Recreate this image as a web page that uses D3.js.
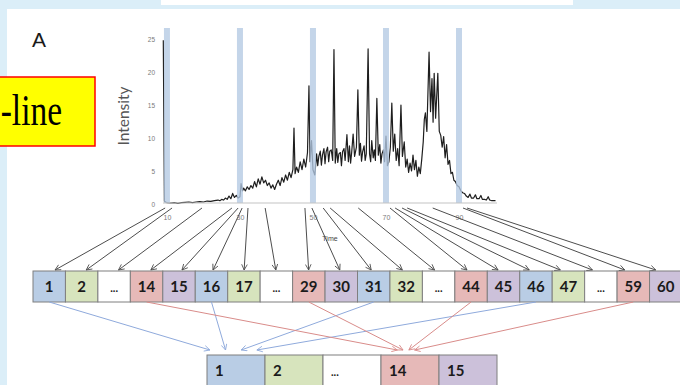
<!DOCTYPE html>
<html>
<head>
<meta charset="utf-8">
<script src="https://cdn.jsdelivr.net/npm/d3@7"></script>
<style>
  html, body { margin: 0; padding: 0; background: #ffffff; }
  svg { display: block; }
</style>
</head>
<body>
<svg id="fig" width="680" height="385"></svg>
<script>
// ---- data ----------------------------------------------------------
// Chromatogram trace: [time, intensity]
const trace = [
  [9,24.8],[9.3,0.4],[10,0.2],[11,0.15],[12,0.2],[13,0.1],[14,0.2],[15,0.25],[16,0.3],
  [17,0.2],[18,0.3],[19,0.35],[20,0.3],[21,0.45],[22,0.4],[23,0.5],[24,0.6],[24.5,0.5],
  [25,0.7],[25.5,0.6],[26,0.9],[26.5,0.7],[27,1.2],[27.5,0.8],[28,1.6],[28.5,1.0],[29,1.3],
  [29.5,0.9],[30,1.1],[30.3,3.1],[30.7,2.0],[31,2.4],[31.5,2.0],[32,2.6],[32.5,2.2],[33,2.8],
  [33.5,2.4],[34,3.4],[34.5,2.6],[35,3.8],[35.5,3.0],[36,4.1],[36.5,3.2],[37,3.6],[37.5,2.8],
  [38,3.2],[38.5,2.4],[39,2.9],[39.5,2.2],[40,3.0],[40.5,3.6],[41,2.8],[41.5,4.0],[42,3.3],
  [42.5,4.4],[43,3.6],[43.5,4.8],[44,4.0],[44.5,5.2],[44.8,11.5],[45.1,4.6],[45.5,5.6],[46,4.8],
  [46.5,6.4],[47,5.2],[47.5,6.8],[48,5.6],[48.5,7.8],[48.9,17.9],[49.2,6.4],[49.6,9.6],[50,5.2],
  [50.5,4.4],[51,7.6],[51.3,5.8],[51.6,7.2],[52,8.0],[52.3,5.9],[52.6,7.4],[53,8.4],[53.3,6.1],
  [53.6,7.9],[54,8.6],[54.3,6.4],[54.6,8.0],[55,8.2],[55.4,6.6],[55.75,23.4],[56.1,6.2],[56.5,8.4],
  [56.8,6.3],[57.1,7.6],[57.5,7.8],[57.8,5.8],[58.1,7.9],[58.5,8.4],[58.8,6.6],[59.3,10.5],[59.7,6.4],
  [60,8.8],[60.3,6.2],[60.6,7.8],[61,10.6],[61.4,7.2],[61.9,8.6],[62.3,17.3],[62.7,7.4],[63,9.2],
  [63.3,6.5],[63.6,7.9],[64,8.8],[64.3,6.6],[64.6,7.6],[65.1,23.5],[65.5,7.6],[65.8,6.4],[66.1,9.6],
  [66.5,7.0],[66.8,8.2],[67.1,6.6],[67.5,16.0],[67.9,7.4],[68.3,9.0],[68.6,6.2],[68.9,7.6],[69.3,8.2],
  [69.6,6.4],[70,10.3],[70.4,5.8],[70.8,6.4],[71.2,8.6],[71.6,15.3],[72,8.0],[72.4,10.6],[72.8,6.6],
  [73.2,8.4],[73.6,5.8],[74.1,15.0],[74.5,7.2],[75,9.4],[75.4,5.6],[75.8,6.8],[76.2,4.8],[76.6,6.2],
  [77,5.0],[77.4,7.4],[77.8,5.2],[78.2,6.6],[78.6,4.2],[79,5.6],[79.4,4.6],[79.8,6.8],[80.2,9.4],
  [80.5,12.8],[80.8,13.8],[81.2,11.0],[81.8,23.0],[82.2,14.0],[82.6,19.0],[82.9,12.4],[83.2,19.8],
  [83.6,13.0],[84.2,19.8],[84.6,11.0],[85,10.4],[85.4,8.6],[85.8,10.2],[86.2,7.0],[86.6,9.0],[87,6.0],
  [87.4,6.6],[87.8,4.6],[88.2,4.8],[88.6,3.6],[89,3.4],[89.5,2.8],[90,2.6],[90.5,2.0],[91,1.7],
  [91.5,1.6],[92,1.2],[92.5,1.0],[93,1.5],[93.4,0.9],[94,0.9],[94.5,1.4],[94.9,0.8],[95.5,0.8],
  [96,1.3],[96.4,0.7],[97,0.7],[97.5,0.6],[98,1.1],[98.4,0.6],[99,0.5],[100,0.5]
];

const yTicks = [0, 5, 10, 15, 20, 25];
const xTicks = [10, 30, 50, 70, 90];
const markerTimes = [10, 30, 50, 70, 90];

// Collected fractions (top row) and their pool colour group
const fractionLabels = ["1","2","...","14","15","16","17","...","29","30",
                        "31","32","...","44","45","46","47","...","59","60"];
const fractionGroups = ["blue","green","none","pink","purple","blue","green","none","pink","purple",
                        "blue","green","none","pink","purple","blue","green","none","pink","purple"];
// Elution time at which each fraction arrow leaves the trace
const fractionTimes = [9.5, 11.4, 19.6, 27.8, 29.5, 30.6, 32.2, 36.9, 47.8, 49.7,
                       52.8, 54.7, 62.4, 71.1, 72.5, 74.4, 75.8, 82.8, 91.1, 92.2];

// Pooled fractions (bottom row)
const poolLabels = ["1", "2", "...", "14", "15"];
const poolGroups = ["blue", "green", "none", "pink", "purple"];
const pooledIntoFirst = ["1", "16", "31", "46"];
const pooledIntoFourteenth = ["14", "29", "44", "59"];

// ---- drawing ------------------------------------------------------
const fills = { blue: "#b9cde5", green: "#d7e4bd", none: "#ffffff", pink: "#e6b9b8", purple: "#ccc1da" };

const svg = d3.select("#fig");
const defs = svg.append("defs");

function arrowMarker(id, color) {
  defs.append("marker")
    .attr("id", id)
    .attr("viewBox", "0 0 10 10")
    .attr("refX", 9).attr("refY", 5)
    .attr("markerWidth", 7).attr("markerHeight", 7)
    .attr("markerUnits", "userSpaceOnUse")
    .attr("orient", "auto")
    .append("path")
    .attr("d", "M1,1 L9,5 L1,9")
    .attr("fill", "none")
    .attr("stroke", color)
    .attr("stroke-width", 1.2);
}
arrowMarker("arrDark", "#4d4d4d");
arrowMarker("arrBlue", "#8faadc");
arrowMarker("arrPink", "#d98c8a");

// page frame
svg.append("rect").attr("width", 680).attr("height", 385).attr("fill", "#dbeef8");
svg.append("rect").attr("x", 7).attr("y", 9).attr("width", 673).attr("height", 376).attr("fill", "#ffffff");
svg.append("rect").attr("x", 161).attr("y", 0).attr("width", 412).attr("height", 5).attr("fill", "#ffffff");

// yellow callout
svg.append("rect").attr("x", -3).attr("y", 77).attr("width", 98).attr("height", 69)
  .attr("fill", "#ffff00").attr("stroke", "#ff0000").attr("stroke-width", 1.5);
svg.append("text")
  .attr("transform", "translate(62,125) scale(0.76,1)")
  .attr("text-anchor", "end")
  .attr("font-family", "'Liberation Serif', 'Times New Roman', serif")
  .attr("font-size", 44)
  .attr("fill", "#000")
  .text("-line");

svg.append("text").attr("x", 32).attr("y", 47)
  .attr("font-family", "'Liberation Sans', Arial, sans-serif")
  .attr("font-size", 21).attr("fill", "#1a1a1a").text("A");

// chromatogram
const x = d3.scaleLinear().domain([9, 100]).range([163.3, 495.5]);
const y = d3.scaleLinear().domain([0, 25]).range([204, 39]);

svg.append("path")
  .datum(trace)
  .attr("d", d3.line().x(d => x(d[0])).y(d => y(d[1])))
  .attr("fill", "none")
  .attr("stroke", "#1e1e1e")
  .attr("stroke-width", 1.2)
  .attr("stroke-linejoin", "round");

svg.append("g").selectAll("rect").data(markerTimes).join("rect")
  .attr("x", d => x(d) - 3).attr("y", 28)
  .attr("width", 6).attr("height", 203 - 28)
  .attr("fill", "#b4c9e3").attr("opacity", 0.78);

const yAxis = svg.append("g").attr("transform", "translate(163,0)")
  .call(d3.axisLeft(y).tickValues(yTicks).tickSize(0).tickPadding(8));
yAxis.select(".domain").remove();
yAxis.selectAll("text").attr("font-size", 6.5).attr("fill", "#7a7a7a")
  .attr("font-family", "'Liberation Sans', Arial, sans-serif");

const xAxis = svg.append("g").attr("transform", "translate(0,203)")
  .call(d3.axisBottom(x).tickValues(xTicks).tickSize(0).tickPadding(12));
xAxis.select(".domain").attr("stroke", "#c4c4c4").attr("stroke-width", 1.2)
  .attr("d", "M163,0H497");
xAxis.selectAll("text").attr("font-size", 7).attr("fill", "#7a7a7a")
  .attr("font-family", "'Liberation Sans', Arial, sans-serif");

svg.append("text")
  .attr("transform", "translate(129,116) rotate(-90)")
  .attr("text-anchor", "middle")
  .attr("font-family", "Lato, 'Open Sans', sans-serif")
  .attr("font-size", 15.5).attr("fill", "#555").text("Intensity");

svg.append("text").attr("x", 330).attr("y", 241).attr("text-anchor", "middle")
  .attr("font-family", "'Liberation Sans', Arial, sans-serif")
  .attr("font-size", 7).attr("fill", "#444").text("Time");

// fraction boxes
const rowTop = 271, rowH = 31;
const fx = d3.scaleBand().domain(d3.range(fractionLabels.length)).range([33, 33 + 20 * 32.45]);

// arrows: trace -> fractions
svg.append("g").selectAll("line").data(fractionTimes).join("line")
  .attr("x1", d => x(d)).attr("y1", 208)
  .attr("x2", (d, i) => {
    const c = fx(i) + fx.bandwidth() / 2;
    const shift = Math.max(-10, Math.min(6, -(c - x(d)) * 0.05));
    return c + shift;
  })
  .attr("y2", rowTop - 1)
  .attr("stroke", "#4d4d4d").attr("stroke-width", 1)
  .attr("marker-end", "url(#arrDark)");

const fractionRow = svg.append("g");
fractionRow.selectAll("rect").data(fractionLabels).join("rect")
  .attr("x", (d, i) => fx(i)).attr("y", rowTop)
  .attr("width", fx.bandwidth()).attr("height", rowH)
  .attr("fill", (d, i) => fills[fractionGroups[i]])
  .attr("stroke", "#7f7f7f").attr("stroke-width", 1);
fractionRow.selectAll("text").data(fractionLabels).join("text")
  .attr("x", (d, i) => fx(i) + fx.bandwidth() / 2)
  .attr("y", 292)
  .attr("text-anchor", "middle")
  .attr("font-family", "Lato, 'Liberation Sans', sans-serif")
  .attr("font-weight", "bold")
  .attr("font-size", d => d === "..." ? 11 : 15)
  .attr("fill", "#1b1b1b")
  .text(d => d);

// pooled boxes
const poolTop = 355, poolH = 36;
const px = d3.scaleBand().domain(d3.range(poolLabels.length)).range([207, 207 + 5 * 58]);

function poolArrows(sources, target, start, step, marker, color) {
  const t = poolLabels.indexOf(target);
  svg.append("g").selectAll("line").data(sources).join("line")
    .attr("x1", d => fx(fractionLabels.indexOf(d)) + fx.bandwidth() / 2)
    .attr("y1", rowTop + rowH)
    .attr("x2", (d, k) => px(t) + px.bandwidth() * (start + step * k))
    .attr("y2", poolTop - 5)
    .attr("stroke", color).attr("stroke-width", 1)
    .attr("marker-end", `url(#${marker})`);
}
poolArrows(pooledIntoFirst, "1", 0.05, 0.27, "arrBlue", "#8faadc");
poolArrows(pooledIntoFourteenth, "14", 0.28, 0.1, "arrPink", "#d98c8a");

const poolRow = svg.append("g");
poolRow.selectAll("rect").data(poolLabels).join("rect")
  .attr("x", (d, i) => px(i)).attr("y", poolTop)
  .attr("width", px.bandwidth()).attr("height", poolH)
  .attr("fill", (d, i) => fills[poolGroups[i]])
  .attr("stroke", "#7f7f7f").attr("stroke-width", 1);
poolRow.selectAll("text").data(poolLabels).join("text")
  .attr("x", (d, i) => px(i) + 8)
  .attr("y", 376)
  .attr("font-family", "Lato, 'Liberation Sans', sans-serif")
  .attr("font-weight", "bold")
  .attr("font-size", d => d === "..." ? 11 : 15)
  .attr("fill", "#1b1b1b")
  .text(d => d);
</script>
</body>
</html>
